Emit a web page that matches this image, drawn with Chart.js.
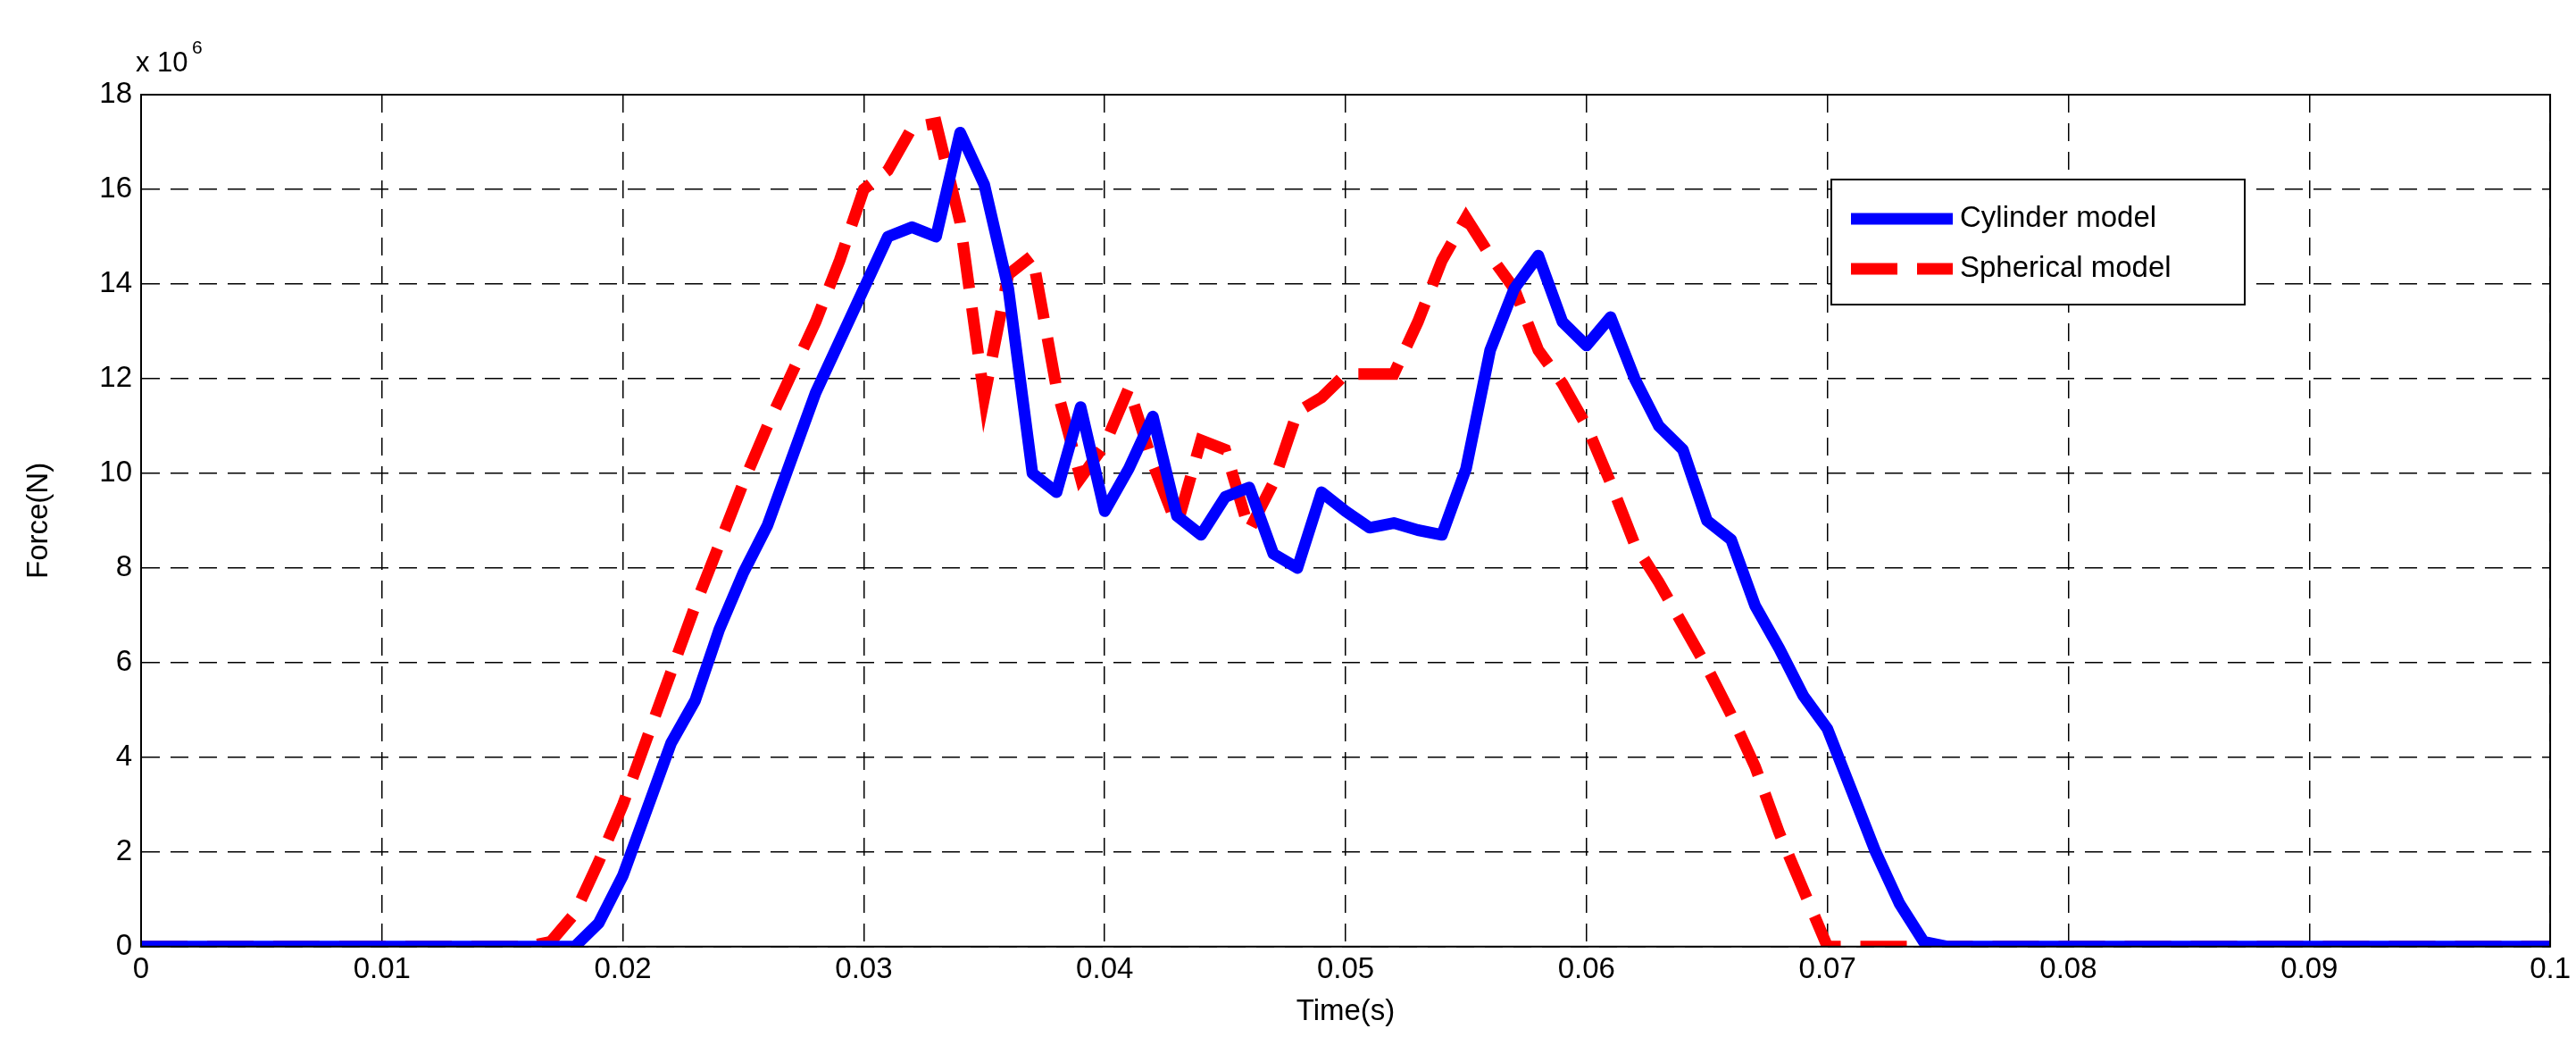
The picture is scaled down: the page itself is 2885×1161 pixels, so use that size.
<!DOCTYPE html>
<html>
<head>
<meta charset="utf-8">
<script src="https://cdn.jsdelivr.net/npm/chart.js@4/dist/chart.umd.min.js"></script>
<style>
html, body { margin: 0; padding: 0; background: #fff; }
#wrap { width: 2885px; height: 1161px; position: relative; }
</style>
</head>
<body>
<div id="wrap"><canvas id="c"></canvas></div>
<script>
// force in units of 1e6 N, one value per millisecond from 0 to 0.1 s
const timeStep = 0.001;
const cylinder = [
  0, 0, 0, 0, 0, 0, 0, 0, 0, 0,
  0, 0, 0, 0, 0, 0, 0, 0, 0, 0.5,
  1.5, 2.9, 4.3, 5.2, 6.7, 7.9, 8.9, 10.3, 11.7, 12.8,
  13.9, 15.0, 15.2, 15.0, 17.2, 16.1, 13.9, 10.0, 9.6, 11.4,
  9.2, 10.1, 11.2, 9.1, 8.7, 9.5, 9.7, 8.3, 8.0, 9.6,
  9.2, 8.85, 8.95, 8.8, 8.7, 10.1, 12.6, 13.9, 14.6, 13.2,
  12.7, 13.3, 12.0, 11.0, 10.5, 9.0, 8.6, 7.2, 6.3, 5.3,
  4.6, 3.3, 2.0, 0.9, 0.1, 0, 0, 0, 0, 0,
  0, 0, 0, 0, 0, 0, 0, 0, 0, 0,
  0, 0, 0, 0, 0, 0, 0, 0, 0, 0, 0
];
const spherical = [
  0, 0, 0, 0, 0, 0, 0, 0, 0, 0,
  0, 0, 0, 0, 0, 0, 0, 0.1, 0.7, 1.8,
  3.0, 4.4, 5.8, 7.2, 8.5, 9.8, 11.0, 12.1, 13.2, 14.5,
  16.0, 16.4, 17.3, 17.4, 15.3, 11.6, 14.2, 14.6, 11.8, 9.9,
  10.6, 11.8, 10.2, 8.9, 10.7, 10.5, 8.8, 9.8, 11.3, 11.6,
  12.1, 12.1, 12.1, 13.2, 14.5, 15.4, 14.6, 13.9, 12.6, 11.9,
  11.0, 9.8, 8.5, 7.7, 6.8, 5.9, 4.9, 3.8, 2.4, 1.2,
  0, 0, 0, 0, 0, 0, 0, 0, 0, 0,
  0, 0, 0, 0, 0, 0, 0, 0, 0, 0,
  0, 0, 0, 0, 0, 0, 0, 0, 0, 0, 0
];
const seriesNames = ['Cylinder model', 'Spherical model'];
const xTicks = [0, 0.01, 0.02, 0.03, 0.04, 0.05, 0.06, 0.07, 0.08, 0.09, 0.1];

function toPoints(arr) {
  return arr.map((v, i) => ({ x: i * timeStep, y: v }));
}

const FONT = 'Liberation Sans, Arial, sans-serif';
Chart.defaults.font.family = FONT;
Chart.defaults.color = '#000';

// MATLAB style frame, legend box and x10^6 label
const extras = {
  id: 'extras',
  afterDraw(chart) {
    const ctx = chart.ctx;
    const a = chart.chartArea;
    ctx.save();
    ctx.strokeStyle = '#000';
    ctx.lineWidth = 2;
    ctx.strokeRect(a.left, a.top, a.right - a.left, a.bottom - a.top);
    ctx.font = '31px ' + FONT;
    ctx.fillStyle = '#000';
    ctx.textBaseline = 'alphabetic';
    ctx.fillText('x 10', a.left - 6, a.top - 26);
    ctx.font = '21px ' + FONT;
    ctx.fillText('6', a.left + 57, a.top - 46);
    // legend
    const lx = 2051, ly = 201, lw = 463, lh = 140;
    ctx.fillStyle = '#fff';
    ctx.fillRect(lx, ly, lw, lh);
    ctx.lineWidth = 2;
    ctx.strokeStyle = '#000';
    ctx.strokeRect(lx, ly, lw, lh);
    chart.data.datasets.forEach((d, i) => {
      const y = ly + 44 + i * 56;
      ctx.beginPath();
      ctx.strokeStyle = d.borderColor;
      ctx.lineWidth = 13;
      ctx.setLineDash(d.borderDash || []);
      ctx.moveTo(lx + 22, y);
      ctx.lineTo(lx + 136, y);
      ctx.stroke();
      ctx.setLineDash([]);
      ctx.fillStyle = '#000';
      ctx.font = '33px ' + FONT;
      ctx.textBaseline = 'middle';
      ctx.fillText(d.label, lx + 144, y);
    });
    ctx.restore();
  }
};

new Chart(document.getElementById('c'), {
  type: 'line',
  data: {
    datasets: [
      { label: seriesNames[0], data: toPoints(cylinder), borderColor: '#0000ff', borderWidth: 13, pointRadius: 0, tension: 0, borderJoinStyle: 'round' },
      { label: seriesNames[1], data: toPoints(spherical), borderColor: '#ff0000', borderWidth: 13, borderDash: [52, 22], pointRadius: 0, tension: 0 }
    ]
  },
  options: {
    responsive: true,
    maintainAspectRatio: false,
    animation: false,
    layout: { padding: { left: 20, right: 23, top: 106, bottom: 4 } },
    plugins: { legend: { display: false }, tooltip: { enabled: false } },
    scales: {
      x: {
        type: 'linear', min: 0, max: 0.1,
        afterBuildTicks: s => { s.ticks = xTicks.map(v => ({ value: v })); },
        ticks: { font: { size: 33 }, padding: 6, maxRotation: 0, callback: v => String(v) },
        grid: { color: '#000', lineWidth: 1.5, drawTicks: false },
        border: { dash: [20, 12], display: true, color: '#000' },
        title: { display: true, text: 'Time(s)', font: { size: 33 }, padding: { top: 2 } }
      },
      y: {
        min: 0, max: 18,
        ticks: { stepSize: 2, font: { size: 33 }, padding: 10 },
        grid: { color: '#000', lineWidth: 1.5, drawTicks: false },
        border: { dash: [20, 12], color: '#000' },
        title: { display: true, text: 'Force(N)', font: { size: 33 }, padding: { bottom: 14 } },
        afterFit: s => { s.width = 138; }
      }
    }
  },
  plugins: [extras]
});
</script>
</body>
</html>
